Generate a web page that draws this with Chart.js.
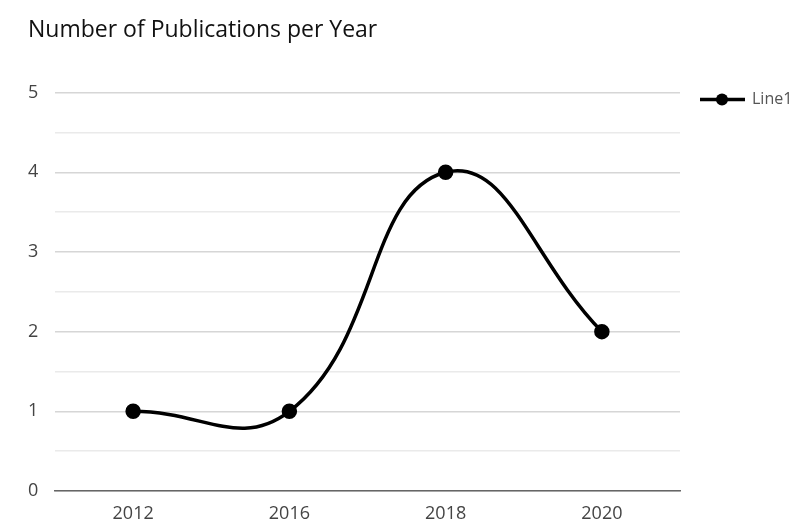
<!DOCTYPE html>
<html>
<head>
<meta charset="utf-8">
<script src="https://cdn.jsdelivr.net/npm/chart.js@4"></script>
<style>
  html, body { margin: 0; padding: 0; background: #fff; }
  #wrap { width: 804px; height: 526px; }
</style>
</head>
<body>
<div id="wrap"><canvas id="myChart" width="804" height="526"></canvas></div>
<script>
// data
const years = ["2012", "2016", "2018", "2020"];
const publications = [1, 1, 4, 2];
const seriesName = "Line1";
const chartTitle = "Number of Publications per Year";

const tickFont = { family: "'Open Sans'", size: 18 };

// legend drawn by hand: short line with a dot, then the series name
const lineLegend = {
  id: "lineLegend",
  afterDraw(chart) {
    const c = chart.ctx;
    const x = chart.chartArea.right + 20;
    const y = chart.chartArea.top + 7;
    c.save();
    c.strokeStyle = "#000";
    c.lineWidth = 3.5;
    c.beginPath();
    c.moveTo(x, y);
    c.lineTo(x + 45, y);
    c.stroke();
    c.fillStyle = "#000";
    c.beginPath();
    c.arc(x + 22, y, 6, 0, Math.PI * 2);
    c.fill();
    c.fillStyle = "#555";
    c.font = "16px 'Open Sans'";
    c.textBaseline = "middle";
    c.fillText(seriesName, x + 52, y);
    c.restore();
  }
};

const data = {
  labels: years,
  datasets: [{
    label: seriesName,
    data: publications,
    borderColor: "#000",
    backgroundColor: "#000",
    borderWidth: 3.5,
    pointRadius: 6,
    pointHoverRadius: 6,
    tension: 0.45,
    fill: false
  }]
};

const config = {
  type: "line",
  data,
  plugins: [lineLegend],
  options: {
    responsive: false,
    animation: { duration: 0 },
    layout: { padding: { left: 28, right: 124, top: 0, bottom: 0 } },
    plugins: {
      title: {
        display: true,
        text: chartTitle,
        align: "start",
        color: "#111",
        font: { family: "'Open Sans'", size: 23, weight: "normal" },
        padding: { top: 17, bottom: 48 }
      },
      legend: { display: false },
      tooltip: { enabled: false }
    },
    scales: {
      x: {
        offset: true,
        grid: { display: false, drawTicks: false },
        border: { display: true, color: "#666", width: 1.5 },
        ticks: { color: "#444", padding: 12, font: tickFont },
        afterFit: (scale) => { scale.height = 35; }
      },
      y: {
        min: 0,
        max: 5,
        border: { display: false },
        grid: {
          drawTicks: false,
          color: (ctx) => (ctx.tick && Number.isInteger(ctx.tick.value)) ? "#d6d6d6" : "#eaeaea",
          lineWidth: 1.5
        },
        ticks: {
          stepSize: 0.5,
          crossAlign: "far",
          padding: 10,
          color: "#444",
          font: tickFont,
          callback: (v) => Number.isInteger(v) ? v : ""
        },
        afterFit: (scale) => { scale.width = 27; }
      }
    }
  }
};

let ctx = document.getElementById("myChart");
let myChart = new Chart(ctx, config);
</script>
</body>
</html>
